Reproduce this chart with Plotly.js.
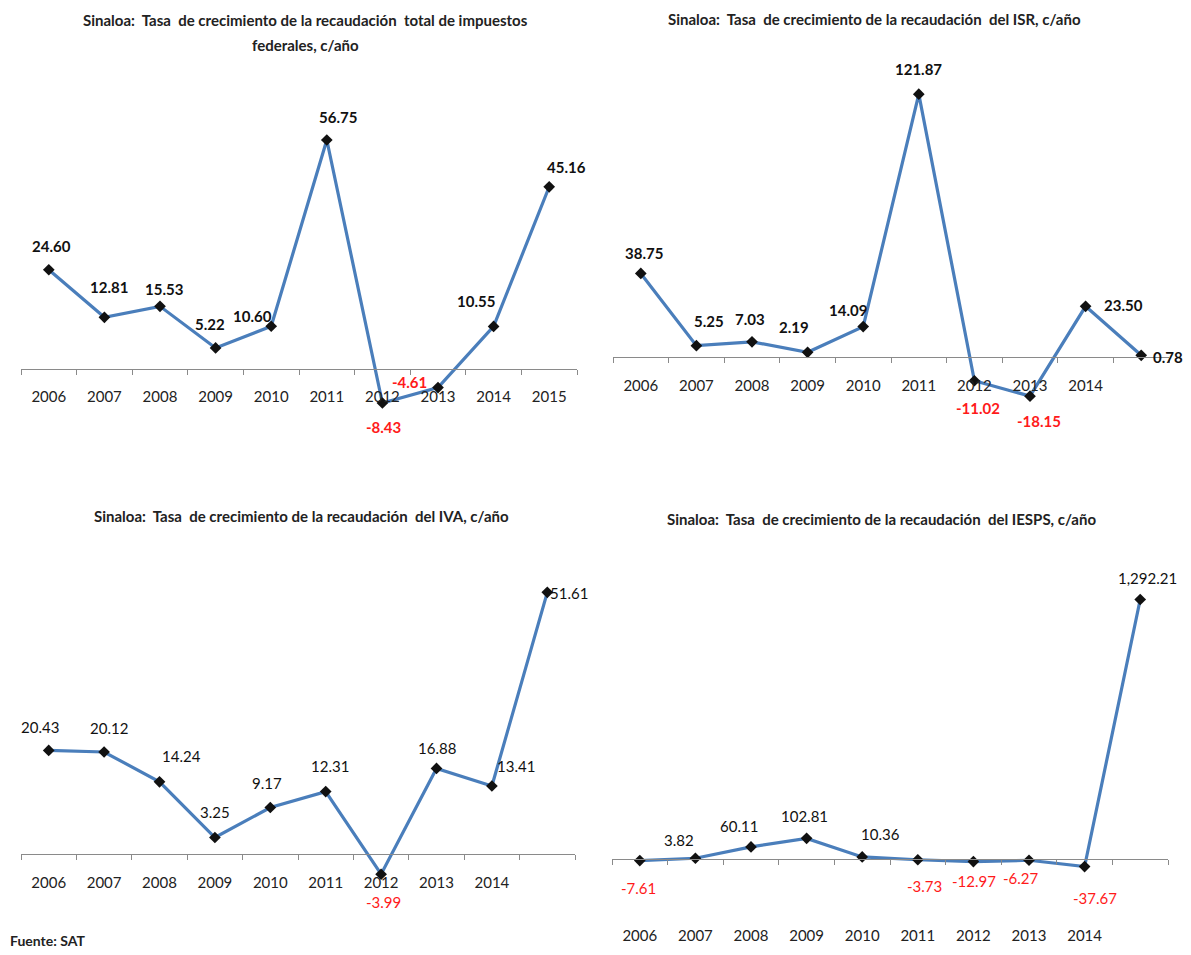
<!DOCTYPE html>
<html>
<head>
<meta charset="utf-8">
<script src="https://cdn.plot.ly/plotly-3.0.1.min.js"></script>
<style>
html,body{margin:0;padding:0;background:#fff;}
#chart{width:1191px;height:955px;}
</style>
</head>
<body>
<div id="chart"></div>
<script>
// ---------- data ----------
const yearsFull  = ['2006','2007','2008','2009','2010','2011','2012','2013','2014','2015'];
const yearsShort = ['2006','2007','2008','2009','2010','2011','2012','2013','2014',' '];

const totalFederal = [24.60, 12.81, 15.53, 5.22, 10.60, 56.75, -8.43, -4.61, 10.55, 45.16];
const isr          = [38.75, 5.25, 7.03, 2.19, 14.09, 121.87, -11.02, -18.15, 23.50, 0.78];
const iva          = [20.43, 20.12, 14.24, 3.25, 9.17, 12.31, -3.99, 16.88, 13.41, 51.61];
const iesps        = [-7.61, 3.82, 60.11, 102.81, 10.36, -3.73, -12.97, -6.27, -37.67, 1292.21];

const titles = [
  ['Sinaloa:\u00a0 Tasa\u00a0 de crecimiento de la recaudación\u00a0 total de impuestos', 'federales, c/año'],
  ['Sinaloa:\u00a0 Tasa\u00a0 de crecimiento de la recaudación\u00a0 del ISR, c/año'],
  ['Sinaloa:\u00a0 Tasa\u00a0 de crecimiento de la recaudación\u00a0 del IVA, c/año'],
  ['Sinaloa:\u00a0 Tasa\u00a0 de crecimiento de la recaudación\u00a0 del IESPS, c/año']
];
const source = 'Fuente: SAT';

// ---------- layout (pixels) ----------
const W = 1191, H = 955;
const FONT = 'Lato, "Open Sans", sans-serif';

// data-label placement in px [dx, dy(up)]
const offTotal = [[3,24],[5,30],[4,17],[-6,24],[-19,10],[11,23],[1,-24],[-29,6],[-18,25],[17,20]];
const offIsr   = [[3,20],[13,25],[-2,23],[-14,25],[-15,17],[0,25],[4,-27],[9,-25],[38,1],[27,-2]];
const offIva   = [[-9,23],[5,24],[22,26],[0,26],[-3,25],[4,26],[2,-28],[0,20],[24,20],[22,-1]];
const offIesps = [[-1,-27],[-16,18],[-12,21],[-2,22],[18,23],[7,-26],[1,-19],[-8,-18],[10,-31],[7,22]];

const panels = [
  {cats: yearsFull,  vals: totalFederal, off: offTotal, x0: 21,  x1: 577,  top: 70,  bottom: 430, zero: 369, scale: 4.035, standoff: 14, bold: true,
   titleX: 305, titleY: [20, 45]},
  {cats: yearsShort, vals: isr,          off: offIsr,   x0: 613, x1: 1169, top: 60,  bottom: 430, zero: 357, scale: 2.157, standoff: 15, bold: true,
   titleX: 874, titleY: [19]},
  {cats: yearsShort, vals: iva,          off: offIva,   x0: 21,  x1: 575,  top: 560, bottom: 910, zero: 854, scale: 5.07,  standoff: 15, bold: false,
   titleX: 301, titleY: [516]},
  {cats: yearsShort, vals: iesps,        off: offIesps, x0: 612, x1: 1168, top: 560, bottom: 910, zero: 859, scale: 0.2008, standoff: 63, bold: false,
   titleX: 881, titleY: [519]}
];

const fmt = v => v.toLocaleString('en-US', {minimumFractionDigits: 2, maximumFractionDigits: 2});

const data = [];
const layout = {
  width: W, height: H,
  margin: {l: 0, r: 0, t: 0, b: 0},
  paper_bgcolor: '#fff', plot_bgcolor: 'rgba(0,0,0,0)',
  showlegend: false,
  font: {family: FONT, color: '#222'},
  annotations: []
};

panels.forEach((p, i) => {
  const n = i === 0 ? '' : String(i + 1);
  const xa = 'xaxis' + n, ya = 'yaxis' + n;
  const yMin = -(p.bottom - p.zero) / p.scale;
  const yMax = (p.zero - p.top) / p.scale;

  layout[xa] = {
    type: 'category',
    domain: [p.x0 / W, p.x1 / W],
    anchor: 'free',
    position: 1 - p.zero / H,
    range: [-0.5, p.cats.length - 0.5],
    tickson: 'boundaries',
    ticks: 'outside', ticklen: 5, tickcolor: '#8a8a8a', tickwidth: 1,
    showline: true, linecolor: '#8a8a8a', linewidth: 1,
    showgrid: false, zeroline: false,
    tickfont: {family: FONT, size: 15, color: '#222'},
    ticklabelstandoff: p.standoff,
    fixedrange: true
  };
  layout[ya] = {
    domain: [1 - p.bottom / H, 1 - p.top / H],
    range: [yMin, yMax],
    visible: false,
    showgrid: false, zeroline: false,
    anchor: 'x' + n,
    fixedrange: true
  };

  data.push({
    type: 'scatter', mode: 'lines+markers',
    x: p.cats, y: p.vals,
    xaxis: 'x' + n, yaxis: 'y' + n,
    line: {color: '#4a7ebb', width: 3.2},
    marker: {symbol: 'diamond', size: 9, color: '#111'},
    cliponaxis: false,
    hoverinfo: 'x+y'
  });

  p.vals.forEach((v, k) => {
    const txt = fmt(v);
    layout.annotations.push({
      xref: 'x' + n, yref: 'y' + n,
      x: k, y: v,   // category index
      text: p.bold ? '<b>' + txt + '</b>' : txt,
      showarrow: false,
      xshift: p.off[k][0], yshift: p.off[k][1],
      font: {family: FONT, size: 15, color: v < 0 ? '#ff1a1a' : '#111'}
    });
  });

  titles[i].forEach((t, j) => {
    layout.annotations.push({
      xref: 'paper', yref: 'paper',
      x: p.titleX / W, y: 1 - p.titleY[j] / H,
      xanchor: 'center', yanchor: 'middle',
      text: '<b>' + t + '</b>',
      showarrow: false,
      font: {family: FONT, size: 15, color: '#222'}
    });
  });
});

layout.annotations.push({
  xref: 'paper', yref: 'paper',
  x: 8 / W, y: 1 - 940 / H,
  xanchor: 'left', yanchor: 'middle',
  text: '<b>' + source + '</b>',
  showarrow: false,
  font: {family: FONT, size: 14, color: '#222'}
});

Plotly.newPlot('chart', data, layout, {displayModeBar: false, staticPlot: true});
</script>
</body>
</html>
